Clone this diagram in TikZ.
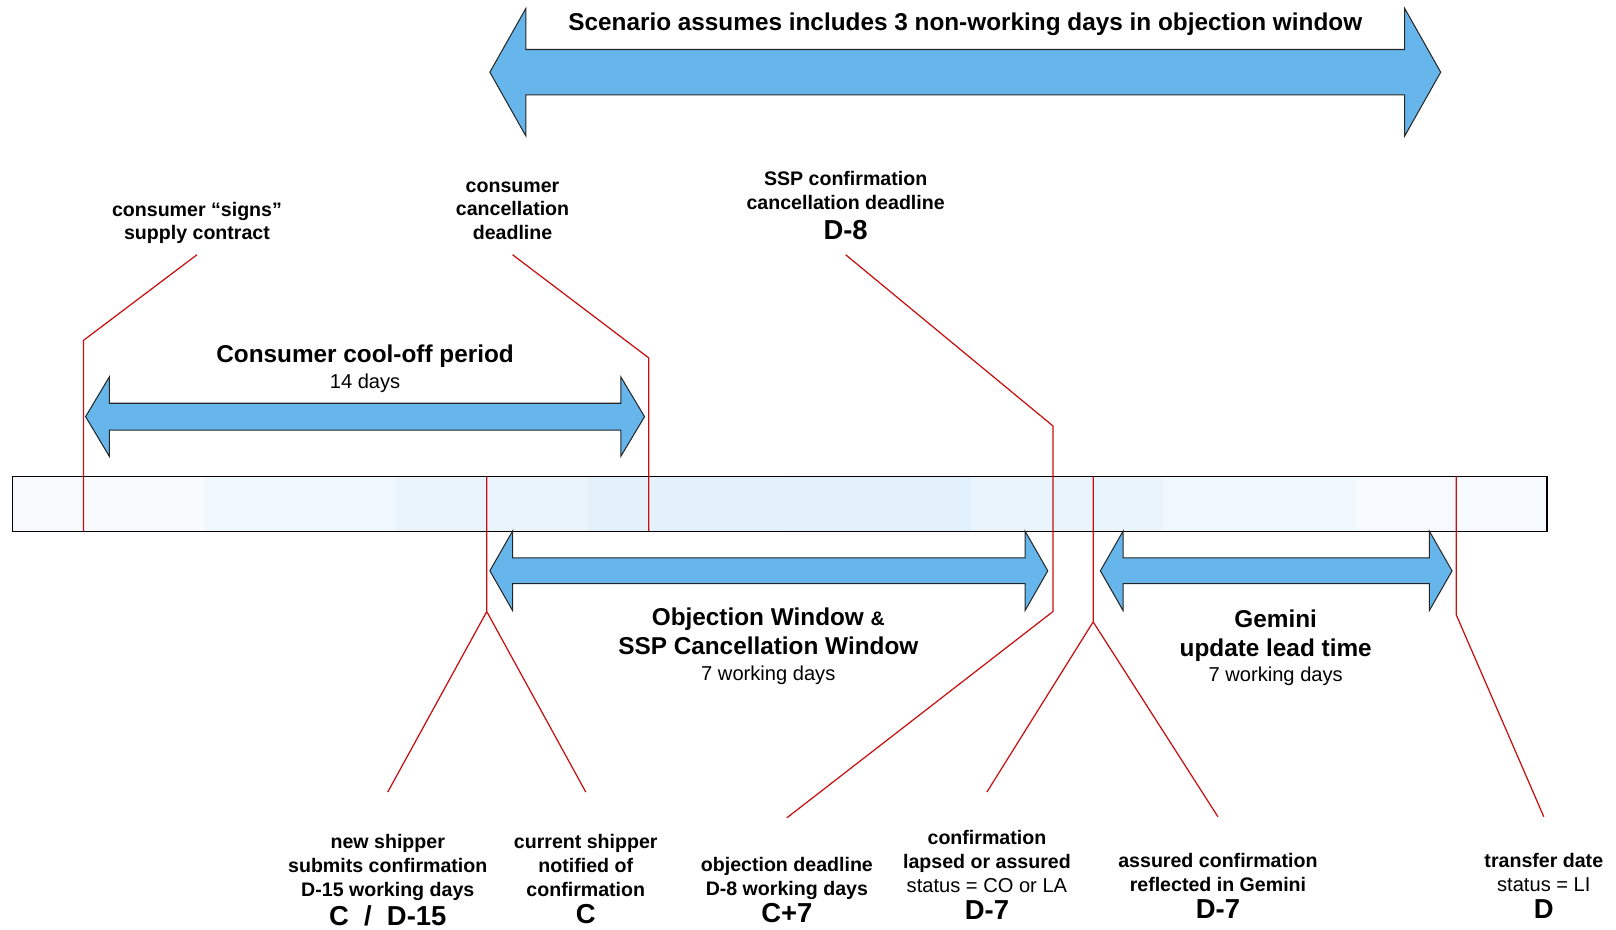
\documentclass[tikz,border=0pt]{standalone}
\usepackage{fontspec}
\setmainfont{Liberation Sans}
\usetikzlibrary{positioning}
\definecolor{arrowblue}{RGB}{102,182,236}
\definecolor{leadred}{RGB}{200,16,16}
\definecolor{barblue}{RGB}{210,232,249}
% fat double arrow: left tip, right tip, centre y, half shaft, half head, head length
\newcommand\dblarrow[6]{%
  \filldraw[fatarrow] (#1,#3) -- ++(#6,-#5) -- ++(0,#5-#4) -- (#2-#6,#3-#4) -- ++(0,#4-#5)
    -- (#2,#3) -- ++(-#6,#5) -- ++(0,#4-#5) -- (#1+#6,#3+#4) -- ++(0,#5-#4) -- cycle;}
\newcommand\bigtx[1]{{\fontsize{13.3}{16}\selectfont #1}}
\newcommand\plaintx[1]{{\mdseries\fontsize{9.75}{11.5}\selectfont #1}}
\begin{document}
\begin{tikzpicture}[x=0.5pt,y=-0.5pt,
  fatarrow/.style={fill=arrowblue,draw=black!85,line width=0.5pt},
  lead/.style={draw=leadred,line width=0.6pt},
  lbl/.style={font=\fontsize{9.5}{11.5}\selectfont\bfseries,align=center,inner sep=0pt},
  hd/.style={font=\fontsize{11.8}{14}\selectfont\bfseries,align=center,inner sep=0pt,anchor=north}]
\useasboundingbox (0,0) rectangle (1567,901);
% timeline bar
\foreach \m [count=\i from 0] in {18,32,48,60,66,50,32,20}
  \fill[barblue!\m!white] (12+186*\i,462) rectangle ++(186,53);
\draw[line width=0.6pt] (12,462) rectangle (1500,515);
% arrows
\dblarrow{475}{1397}{70}{22}{62}{35}
\dblarrow{83}{625}{404}{13}{38.5}{23}
\dblarrow{475}{1016}{553.5}{12.5}{38.5}{22}
\dblarrow{1067}{1408}{553.5}{12.5}{38.5}{22}
\node[hd] (scen) at (936,12) {Scenario assumes includes 3 non-working days in objection window};
\node[hd] (cool) at (354,334) {Consumer cool-off period\\[-1.3pt]\plaintx{14 days}};
\node[hd] (objw) at (745,589) {Objection Window {\fontsize{9.5}{14}\selectfont\&}\\SSP Cancellation Window\\[-1.3pt]\plaintx{7 working days}};
\node[hd] (gem) at (1237,591) {Gemini\\update lead time\\[-1.8pt]\plaintx{7 working days}};
% leader points
\coordinate (sA) at (81,515);   \coordinate (bA) at (81,330);   \coordinate (tA) at (191,247);
\coordinate (sB) at (629,515);  \coordinate (bB) at (629,347);  \coordinate (tB) at (497,247);
\coordinate (tC) at (820,247);  \coordinate (uC) at (1021,413); \coordinate (dC) at (1021,593);
\coordinate (eC) at (763,793);
\coordinate (sD) at (472,462);  \coordinate (dD) at (472,593);
\coordinate (eD1) at (376,768); \coordinate (eD2) at (568,768);
\coordinate (sE) at (1060,462); \coordinate (dE) at (1060,603);
\coordinate (eE1) at (957,768); \coordinate (eE2) at (1181,792);
\coordinate (sF) at (1412,462); \coordinate (dF) at (1412,596); \coordinate (eF) at (1497,792);
% leaders
\draw[lead] (sA) -- (bA) -- (tA);
\draw[lead] (sB) -- (bB) -- (tB);
\draw[lead] (tC) -- (uC) -- (dC) -- (eC);
\draw[lead] (sD) -- (dD) -- (eD1) (dD) -- (eD2);
\draw[lead] (sE) -- (dE) -- (eE1) (dE) -- (eE2);
\draw[lead] (sF) -- (dF) -- (eF);
% labels
\node[lbl,above=5pt of tA] (signs) {consumer “signs”\\supply contract};
\node[lbl,above=7pt of tB] (ccd) {consumer\\cancellation\\deadline};
\node[lbl,above=7pt of tC] (sspd) {SSP confirmation\\cancellation deadline\\[3pt]\bigtx{D-8}};
\node[lbl,below=20.5pt of eD1] (newsh) {new shipper\\submits confirmation\\D-15 working days\\[1.5pt]\bigtx{C~~/~~D-15}};
\node[lbl,below=20.5pt of eD2] (cursh) {current shipper\\notified of\\confirmation\\[1.5pt]\bigtx{C}};
\node[lbl,below=19pt of eC] (objd) {objection deadline\\D-8 working days\\[1.5pt]\bigtx{C+7}};
\node[lbl,below=18.5pt of eE1] (lapse) {confirmation\\lapsed or assured\\\plaintx{status = CO or LA}\\[1.5pt]\bigtx{D-7}};
\node[lbl,below=17.5pt of eE2] (assur) {assured confirmation\\reflected in Gemini\\[1.5pt]\bigtx{D-7}};
\node[lbl,below=17.5pt of eF] (trans) {transfer date\\\plaintx{status = LI}\\[1.5pt]\bigtx{D}};
\end{tikzpicture}
\end{document}
